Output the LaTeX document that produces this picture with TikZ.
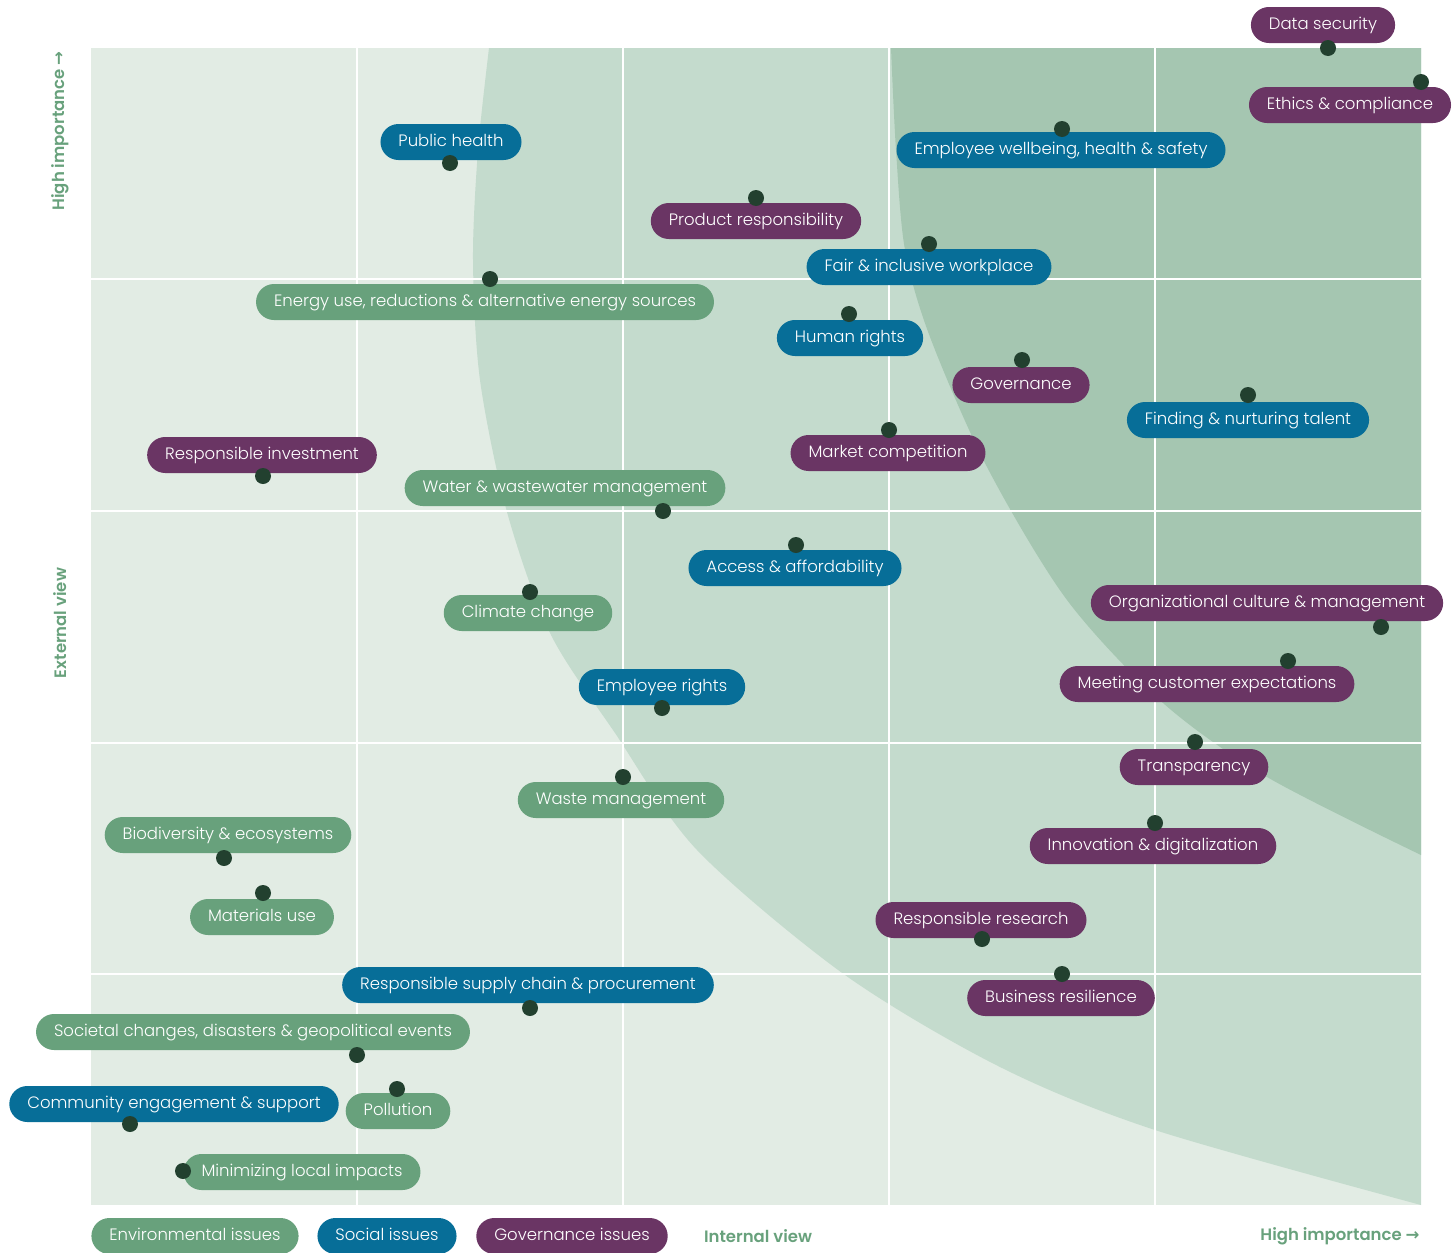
\documentclass[tikz,border=0pt]{standalone}
\usepackage{fontspec}
\setmainfont{Poppins}[UprightFont={* Light},BoldFont={* SemiBold}]
\newfontfamily\arrowfont{DejaVu Sans}
\usetikzlibrary{positioning}
\definecolor{bglight}{HTML}{E2ECE4}
\definecolor{bgmid}{HTML}{C4DBCD}
\definecolor{bgdark}{HTML}{A5C6B1}
\definecolor{envgreen}{HTML}{68A17C}
\definecolor{socblue}{HTML}{076E98}
\definecolor{govpurple}{HTML}{6A3564}
\definecolor{dotgreen}{HTML}{22402F}
\tikzset{
  issue/.style={rectangle, rounded corners=18pt, minimum height=36pt, inner xsep=18pt,
    inner ysep=0pt, text height=11.8pt, text depth=3.6pt, text=white,
    font=\fontsize{16.5}{18}\selectfont},
  env/.style={issue, fill=envgreen},
  soc/.style={issue, fill=socblue},
  gov/.style={issue, fill=govpurple},
  dot/.style={circle, fill=dotgreen, inner sep=0pt, minimum size=16pt},
  axislabel/.style={text=envgreen, font=\bfseries\fontsize{16.5}{18}\selectfont},
}

\begin{document}
\begin{tikzpicture}[x=1pt,y=-1pt]
\useasboundingbox (0,0) rectangle (1454,1253);
% importance bands
\fill[bglight] (91,48) rectangle (1421,1205);
\fill[bgmid] plot[smooth] coordinates {(489,48) (478,150) (473,260) (480,380) (507,512)
  (550,633) (615,733) (697,850) (845,975) (1000,1067) (1155,1130) (1421,1205)}
  -- (1421,48) -- cycle;
\fill[bgdark] plot[smooth] coordinates {(891,48) (896,150) (905,250) (930,337) (987,467)
  (1067,600) (1163,703) (1267,777) (1421,855)} -- (1421,48) -- cycle;
\foreach \x in {357,623,889,1155} {
  \draw[white, line width=1.5pt] (\x,48) -- (\x,1205);
}
\foreach \y in {279,511,743,974} {
  \draw[white, line width=1.5pt] (91,\y) -- (1421,\y);
}

% axes
\node[axislabel, rotate=90, anchor=east] (yhigh) at (60,48) {High importance {\arrowfont →}};
\node[axislabel, rotate=90] (yview) at (60,623) {External view};
\node[axislabel] (xview) at (758,1236) {Internal view};
\node[axislabel, anchor=east] (xhigh) at (1423,1236) {High importance {\arrowfont →}};

% legend
\node[env] (legenv) at (195,1236) {Environmental issues};
\node[soc] (legsoc) at (387,1236) {Social issues};
\node[gov] (leggov) at (572,1236) {Governance issues};

% issues
\node[gov] (datasec) at (1323,25) {Data security};
\node[gov] (ethics) at (1350,105) {Ethics \& compliance};
\node[soc] (pubhealth) at (451,142) {Public health};
\node[soc] (wellbeing) at (1061,150) {Employee wellbeing, health \& safety};
\node[gov] (product) at (756,221) {Product responsibility};
\node[soc] (fair) at (929,267) {Fair \& inclusive workplace};
\node[env] (energy) at (485,302) {Energy use, reductions \& alternative energy sources};
\node[soc] (humanrights) at (850,338) {Human rights};
\node[gov] (governance) at (1021,385) {Governance};
\node[soc] (talent) at (1248,420) {Finding \& nurturing talent};
\node[gov] (market) at (888,453) {Market competition};
\node[gov] (investment) at (262,455) {Responsible investment};
\node[env] (water) at (565,488) {Water \& wastewater management};
\node[soc] (access) at (795,568) {Access \& affordability};
\node[env] (climate) at (528,613) {Climate change};
\node[gov] (culture) at (1267,603) {Organizational culture \& management};
\node[soc] (emprights) at (662,687) {Employee rights};
\node[gov] (customer) at (1207,684) {Meeting customer expectations};
\node[gov] (transparency) at (1194,767) {Transparency};
\node[env] (waste) at (621,800) {Waste management};
\node[env] (biodiv) at (228,835) {Biodiversity \& ecosystems};
\node[gov] (innovation) at (1153,846) {Innovation \& digitalization};
\node[env] (materials) at (262,917) {Materials use};
\node[gov] (research) at (981,920) {Responsible research};
\node[gov] (resilience) at (1061,998) {Business resilience};
\node[soc] (supply) at (528,985) {Responsible supply chain \& procurement};
\node[env] (societal) at (253,1032) {Societal changes, disasters \& geopolitical events};
\node[soc] (community) at (174,1104) {Community engagement \& support};
\node[env] (pollution) at (398,1111) {Pollution};
\node[env] (local) at (302,1172) {Minimizing local impacts};

% rating points
\node[dot] (datasecpt) at (1328,48) {};
\node[dot] (ethicspt) at (1421,82) {};
\node[dot] (pubhealthpt) at (450,163) {};
\node[dot] (wellbeingpt) at (1062,129) {};
\node[dot] (productpt) at (756,198) {};
\node[dot] (fairpt) at (929,244) {};
\node[dot] (energypt) at (490,279) {};
\node[dot] (humanrightspt) at (849,314) {};
\node[dot] (governancept) at (1022,360) {};
\node[dot] (talentpt) at (1248,395) {};
\node[dot] (marketpt) at (889,430) {};
\node[dot] (investmentpt) at (263,476) {};
\node[dot] (waterpt) at (663,511) {};
\node[dot] (accesspt) at (796,545) {};
\node[dot] (climatept) at (530,592) {};
\node[dot] (culturept) at (1381,627) {};
\node[dot] (emprightspt) at (662,708) {};
\node[dot] (customerpt) at (1288,661) {};
\node[dot] (transparencypt) at (1195,742) {};
\node[dot] (wastept) at (623,777) {};
\node[dot] (biodivpt) at (224,858) {};
\node[dot] (innovationpt) at (1155,823) {};
\node[dot] (materialspt) at (263,893) {};
\node[dot] (researchpt) at (982,939) {};
\node[dot] (resiliencept) at (1062,974) {};
\node[dot] (supplypt) at (530,1008) {};
\node[dot] (societalpt) at (357,1055) {};
\node[dot] (communitypt) at (130,1124) {};
\node[dot] (pollutionpt) at (397,1089) {};
\node[dot] (localpt) at (183,1171) {};
\end{tikzpicture}
\end{document}
